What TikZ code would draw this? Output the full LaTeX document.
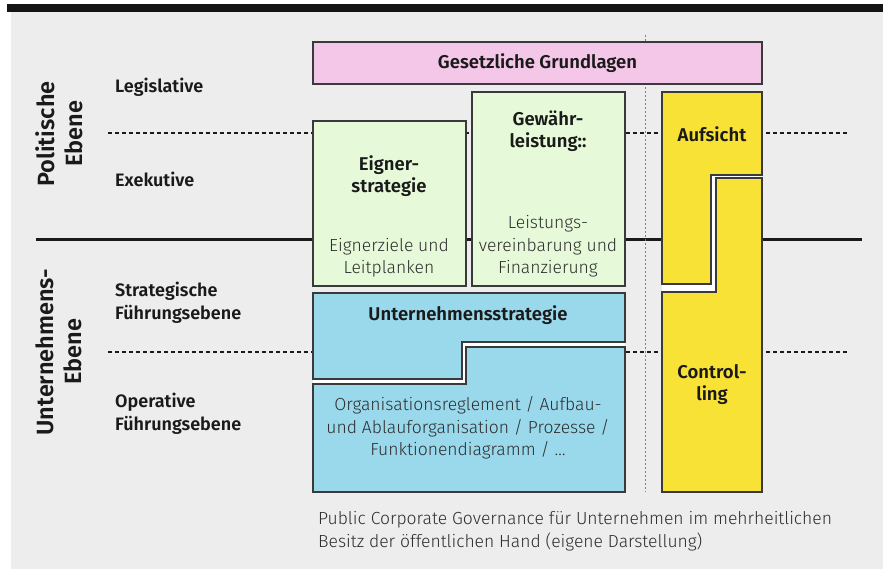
\documentclass[tikz,border=0pt]{standalone}
\usepackage{fontspec}
\setmainfont{Fira Sans}
\newfontfamily\lightf{Fira Sans Light}
\newfontfamily\boldf{Fira Sans SemiBold}
\definecolor{bggrey}{HTML}{EDEDED}
\definecolor{barblack}{HTML}{141414}
\definecolor{pinkbox}{HTML}{F4C6E8}
\definecolor{greenbox}{HTML}{E6FAD9}
\definecolor{bluebox}{HTML}{9AD8EC}
\definecolor{yellowbox}{HTML}{F9E236}
\definecolor{edge}{HTML}{3A3A3A}
\definecolor{txt}{HTML}{1A1A1A}
\definecolor{ltxt}{HTML}{2E2E2E}
\tikzset{
  boxedge/.style={draw=edge, line width=1.1pt},
  headtxt/.style={font=\boldf\fontsize{18.5}{22}\selectfont, text=txt, align=center, inner sep=0pt},
  bodytxt/.style={font=\lightf\fontsize{17.5}{22.5}\selectfont, text=ltxt, align=center, inner sep=0pt},
  sidetxt/.style={font=\boldf\fontsize{18}{23}\selectfont, text=txt, align=left, anchor=west, inner sep=0pt},
  leveltxt/.style={font=\boldf\fontsize{23.5}{28}\selectfont, text=txt, align=center, rotate=90, inner sep=0pt},
  sepdash/.style={draw=txt, line width=1.1pt, dash pattern=on 4pt off 3pt},
  sepsolid/.style={draw=txt, line width=3pt},
  vdots/.style={draw=gray, line width=0.8pt, dash pattern=on 2pt off 2pt}
}
\begin{document}
\begin{tikzpicture}[x=1pt,y=-1pt]
\useasboundingbox (0,0) rectangle (883,569);
% background
\fill[white] (0,0) rectangle (883,569);
\fill[bggrey] (11,12) rectangle (883,569);
\fill[barblack] (7,4) rectangle (883,12.5);
% separator lines
\draw[sepsolid] (36,240) -- (862,240);
\draw[sepdash] (108,133) -- (848,133);
\draw[sepdash] (108,352) -- (848,352);
\draw[vdots] (645,35) -- (645,492);
% pink
\path[boxedge, fill=pinkbox] (313,42) rectangle (762,84);
\node[headtxt] (gesetz) at (537.5,63) {Gesetzliche Grundlagen};
% green
\path[boxedge, fill=greenbox] (313,121) rectangle (466,286);
\path[boxedge, fill=greenbox] (472,92) rectangle (625,286);
\node[headtxt] (eigner) at (389,176) {Eigner-\\strategie};
\node[bodytxt] (eignerziele) at (389,257.5) {Eignerziele und\\Leitplanken};
\node[headtxt] (gewaehr) at (548,131) {Gewähr-\\leistung::};
\node[bodytxt] (leistung) at (548,246.5) {Leistungs-\\vereinbarung und\\Finanzierung};
% blue
\fill[white] (313,378) -- (462,378) -- (462,341) -- (625,341) -- (625,348) -- (466,348) -- (466,385) -- (313,385) -- cycle;
\path[boxedge, fill=bluebox] (313,293) -- (625,293) -- (625,342) -- (462,342) -- (462,379) -- (313,379) -- cycle;
\path[boxedge, fill=bluebox] (466,347) -- (625,347) -- (625,492) -- (313,492) -- (313,384) -- (466,384) -- cycle;
\node[headtxt] (unternehmensstrategie) at (468,315) {Unternehmensstrategie};
\node[bodytxt] (organisation) at (468,428) {Organisationsreglement / Aufbau-\\und Ablauforganisation / Prozesse /\\Funktionendiagramm / \dots};
% yellow
\fill[white] (762,174) -- (711,174) -- (711,283) -- (662,283) -- (662,293) -- (716,293) -- (716,179) -- (762,179) -- cycle;
\path[boxedge, fill=yellowbox] (662,92) -- (762,92) -- (762,175) -- (711,175) -- (711,284) -- (662,284) -- cycle;
\path[boxedge, fill=yellowbox] (716,178) -- (762,178) -- (762,492) -- (662,492) -- (662,292) -- (716,292) -- cycle;
\node[headtxt] (aufsicht) at (712,134) {Aufsicht};
\node[headtxt] (controlling) at (712,384.5) {Control-\\ling};
% side labels
\node[leveltxt] (politisch) at (59,134) {Politische\\Ebene};
\node[leveltxt] (unternehmen) at (59,352) {Unternehmens-\\Ebene};
\node[sidetxt] (legislative) at (115,87) {Legislative};
\node[sidetxt] (exekutive) at (115,179) {Exekutive};
\node[sidetxt] (strategisch) at (115,302.5) {Strategische\\Führungsebene};
\node[sidetxt] (operativ) at (115,413.5) {Operative\\Führungsebene};
% caption
\node[bodytxt, align=left, anchor=west] (caption) at (318,531) {Public Corporate Governance für Unternehmen im mehrheitlichen\\Besitz der öffentlichen Hand (eigene Darstellung)};
\end{tikzpicture}
\end{document}
